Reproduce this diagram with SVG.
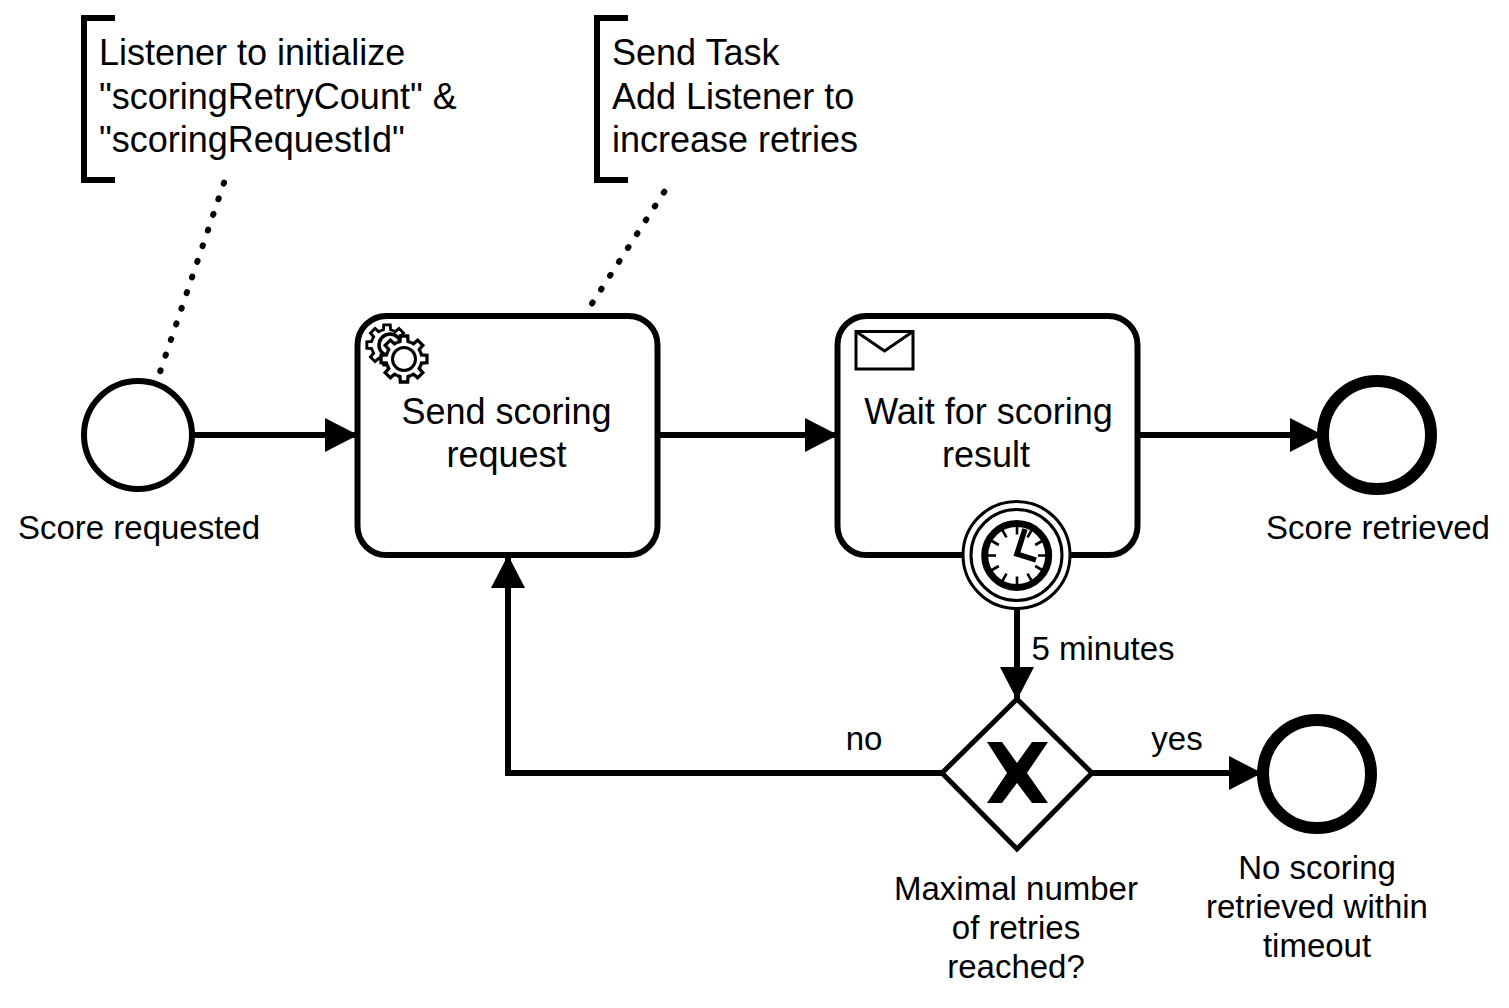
<svg xmlns="http://www.w3.org/2000/svg" xmlns:xlink="http://www.w3.org/1999/xlink" width="1509" height="1008" viewBox="0 0 1509 1008">
<style>
text{font-family:"Liberation Sans",Arial,sans-serif;fill:#000}
.t{font-size:36px;text-anchor:middle}
.a{font-size:36px}
.l{font-size:33px;text-anchor:middle}
.s{fill:#fff;stroke:#000;stroke-width:6}
.c{fill:none;stroke:#000;stroke-width:6}
.d{stroke-linecap:round;stroke-dasharray:1 15.5}
.g{fill:#fff;stroke:#000;stroke-width:3.4}
.k{stroke:#000;stroke-width:2.6}
</style>
<defs>
<path id="tooth" d="M-7.1-17.1L-4.2-18L-3.8-23.7L3.8-23.7L4.2-18L7.1-17.1"/>
<g id="gear" class="g">
<circle r="18" stroke="none"/>
<use xlink:href="#tooth"/><use xlink:href="#tooth" transform="rotate(45)"/><use xlink:href="#tooth" transform="rotate(90)"/><use xlink:href="#tooth" transform="rotate(135)"/><use xlink:href="#tooth" transform="rotate(180)"/><use xlink:href="#tooth" transform="rotate(225)"/><use xlink:href="#tooth" transform="rotate(270)"/><use xlink:href="#tooth" transform="rotate(315)"/>
</g>
<marker id="arrow" markerUnits="userSpaceOnUse" markerWidth="34" markerHeight="36" refX="33" refY="18" orient="auto"><path d="M0 1L33 18L0 35Z" fill="#000"/></marker>
</defs>
<rect width="1509" height="1008" fill="#fff"/>
<g id="connectors" class="c">
<path d="M192 435H358" marker-end="url(#arrow)"/>
<path d="M658 435H838" marker-end="url(#arrow)"/>
<path d="M1138 435H1323" marker-end="url(#arrow)"/>
<path d="M1017 608V700" marker-end="url(#arrow)"/>
<path d="M942 773H508V555" stroke-linejoin="miter" marker-end="url(#arrow)"/>
<path d="M1092 773H1262" marker-end="url(#arrow)"/>
<path class="d" d="M224 182.700L160 372"/>
<path class="d" d="M664.300 191.700L591 305"/>
</g>
<g id="annotation1">
<path d="M115 18H84V180H115" class="c"/>
<text class="a"><tspan x="99" y="65">Listener to initialize</tspan><tspan x="99" y="109">"scoringRetryCount" &amp;</tspan><tspan x="99" y="152">"scoringRequestId"</tspan></text>
</g>
<g id="annotation2">
<path d="M628 18H597V180H628" class="c"/>
<text class="a"><tspan x="612" y="65">Send Task</tspan><tspan x="612" y="109">Add Listener to</tspan><tspan x="612" y="152">increase retries</tspan></text>
</g>
<g id="start">
<circle cx="138" cy="435" r="54" fill="#fff" stroke="#000" stroke-width="6"/>
<text class="l" x="139" y="539">Score requested</text>
</g>
<g id="send">
<rect x="357.500" y="316" width="300" height="239" rx="29" class="s"/>
<use xlink:href="#gear" transform="translate(387 345) scale(.85)"/>
<circle cx="390" cy="345" r="11" fill="none" stroke="#000" stroke-width="3.500"/>
<use xlink:href="#gear" transform="translate(404 359) scale(.97)"/>
<circle cx="404" cy="359" r="11.500" fill="#fff" stroke="#000" stroke-width="3"/>
<text class="t"><tspan x="506.500" y="424">Send scoring</tspan><tspan x="506.500" y="467">request</tspan></text>
</g>
<g id="wait">
<rect x="837.500" y="316" width="300" height="239" rx="29" class="s"/>
<path d="M856 331.500H913V369H856Z" fill="#fff" stroke="#000" stroke-width="3"/>
<path d="M856 331.500L884.500 351L913 331.500" fill="none" stroke="#000" stroke-width="3"/>
<text class="t"><tspan x="988.500" y="424">Wait for scoring</tspan><tspan x="986" y="467">result</tspan></text>
</g>
<g id="timer">
<circle cx="1016.500" cy="555" r="53.500" fill="#fff" stroke="#000" stroke-width="3"/>
<circle cx="1016.500" cy="555" r="45.500" fill="#fff" stroke="#000" stroke-width="3"/>
<circle cx="1016.700" cy="555.500" r="32" fill="#fff" stroke="#000" stroke-width="7"/>
<path class="k" d="M1017 525.500V534.500M1017 576.500V585.500M987 555.500H996M1038 555.500H1047M1027.500 537.300L1032 529.500M1035.200 545L1043 540.500M1035.200 566L1043 570.500M1027.500 573.700L1032 581.500M1006.500 573.700L1002 581.500M998.800 566L991 570.500M998.800 545L991 540.500M1006.500 537.300L1002 529.500"/>
<path d="M1025 529L1017 554L1036 560" fill="none" stroke="#000" stroke-width="5.500"/>
</g>
<g id="end1">
<circle cx="1377" cy="435" r="54" fill="none" stroke="#000" stroke-width="12"/>
<text class="l" x="1378" y="539">Score retrieved</text>
</g>
<g id="gateway">
<path d="M1017 699L1092 773L1017 849L942 773Z" fill="#fff" stroke="#000" stroke-width="5"/>
<path d="M987 742H1002L1017 763L1032 742H1048L1027 773L1048 803H1032L1017 783L1002 803H987L1007 773Z" fill="#000"/>
<text class="l"><tspan x="1016" y="900">Maximal number</tspan><tspan x="1016" y="939">of retries</tspan><tspan x="1016" y="978">reached?</tspan></text>
</g>
<g id="end2">
<circle cx="1317" cy="774" r="54" fill="none" stroke="#000" stroke-width="12"/>
<text class="l"><tspan x="1317" y="879">No scoring</tspan><tspan x="1317" y="918">retrieved within</tspan><tspan x="1317" y="957">timeout</tspan></text>
</g>
<g id="labels">
<text class="l" x="1103" y="660">5 minutes</text>
<text class="l" x="864" y="750">no</text>
<text class="l" x="1177" y="750">yes</text>
</g>
</svg>
